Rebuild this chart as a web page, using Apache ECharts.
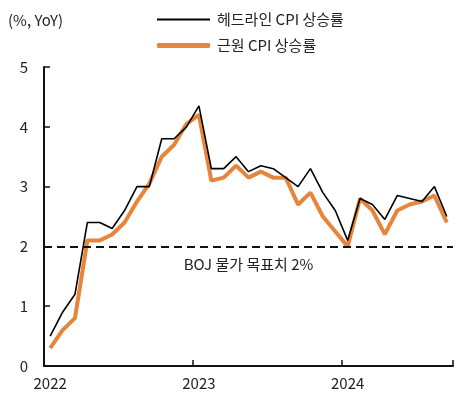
<!doctype html>
<html>
<head>
<meta charset="utf-8">
<title>Japan CPI</title>
<style>
  html, body { margin: 0; padding: 0; background: #fff; }
  #main { width: 464px; height: 399px; }
</style>
</head>
<body>
<div id="main"></div>
<script src="https://cdn.jsdelivr.net/npm/echarts@6/dist/echarts.min.js"></script>
<script>
var months = [
  '2022.01', '2022.02', '2022.03', '2022.04', '2022.05', '2022.06',
  '2022.07', '2022.08', '2022.09', '2022.10', '2022.11', '2022.12',
  '2023.01', '2023.02', '2023.03', '2023.04', '2023.05', '2023.06',
  '2023.07', '2023.08', '2023.09', '2023.10', '2023.11', '2023.12',
  '2024.01', '2024.02', '2024.03', '2024.04', '2024.05', '2024.06',
  '2024.07', '2024.08', '2024.09'
];
var headline = [
  0.5, 0.9, 1.2, 2.4, 2.4, 2.3, 2.6, 3.0, 3.0, 3.8, 3.8, 4.0,
  4.35, 3.3, 3.3, 3.5, 3.25, 3.35, 3.3, 3.15, 3.0, 3.3, 2.9, 2.6,
  2.1, 2.8, 2.7, 2.45, 2.85, 2.8, 2.75, 3.0, 2.5
];
var core = [
  0.3, 0.6, 0.8, 2.1, 2.1, 2.2, 2.4, 2.75, 3.05, 3.5, 3.7, 4.05,
  4.2, 3.1, 3.15, 3.35, 3.15, 3.25, 3.15, 3.15, 2.7, 2.9, 2.5, 2.25,
  2.0, 2.8, 2.6, 2.2, 2.6, 2.7, 2.75, 2.85, 2.4
];
var bojTarget = 2;

var chart = echarts.init(document.getElementById('main'));
var textFont = '"Noto Sans CJK KR", "Noto Sans", sans-serif';

chart.setOption({
  animation: false,
  textStyle: { fontFamily: textFont },
  grid: { left: 44, right: 11, top: 67, bottom: 33 },
  graphic: [{
    type: 'text', left: 8, top: 13,
    style: { text: '(%, YoY)', fontSize: 15, fill: '#222', fontFamily: textFont }
  }],
  legend: [{
    data: ['헤드라인 CPI 상승률'],
    left: 152, top: 7,
    icon: 'rect', itemWidth: 53, itemHeight: 2, itemGap: 8,
    textStyle: { fontSize: 15, color: '#222', padding: [0, 0, 0, 2] }
  }, {
    data: ['근원 CPI 상승률'],
    left: 152, top: 33,
    icon: 'roundRect', itemWidth: 53, itemHeight: 5, itemGap: 8,
    textStyle: { fontSize: 15, color: '#222', padding: [0, 0, 0, 2] }
  }],
  xAxis: {
    type: 'category',
    data: months,
    boundaryGap: true,
    axisLine: { lineStyle: { color: '#111', width: 2 } },
    axisTick: {
      show: true, inside: true, length: 6, interval: 11,
      lineStyle: { color: '#111', width: 1.5 }
    },
    axisLabel: {
      interval: 11,
      formatter: function (v) { return v.slice(0, 4); },
      fontSize: 15, color: '#222', margin: 10
    },
    splitLine: { show: false }
  },
  yAxis: {
    type: 'value',
    min: 0, max: 5, interval: 1,
    axisLine: { show: true, lineStyle: { color: '#111', width: 2 } },
    axisTick: { show: true, inside: true, length: 6, lineStyle: { color: '#111', width: 1.5 } },
    axisLabel: { fontSize: 15, color: '#222', margin: 16 },
    splitLine: { show: false }
  },
  series: [{
    name: '헤드라인 CPI 상승률',
    type: 'line',
    data: headline,
    symbol: 'none',
    z: 3,
    lineStyle: { color: '#000', width: 1.6 },
    itemStyle: { color: '#000' },
    markLine: {
      silent: true,
      symbol: 'none',
      lineStyle: { color: '#111', type: [8, 5], width: 1.8 },
      label: {
        position: 'insideMiddleBottom',
        formatter: 'BOJ 물가 목표치 2%',
        fontSize: 15, color: '#222', distance: 10
      },
      data: [{ yAxis: bojTarget }]
    }
  }, {
    name: '근원 CPI 상승률',
    type: 'line',
    data: core,
    symbol: 'none',
    z: 2,
    lineStyle: { color: '#E6853B', width: 4 },
    itemStyle: { color: '#E6853B' }
  }]
});

window.onresize = chart.resize;
</script>
</body>
</html>
